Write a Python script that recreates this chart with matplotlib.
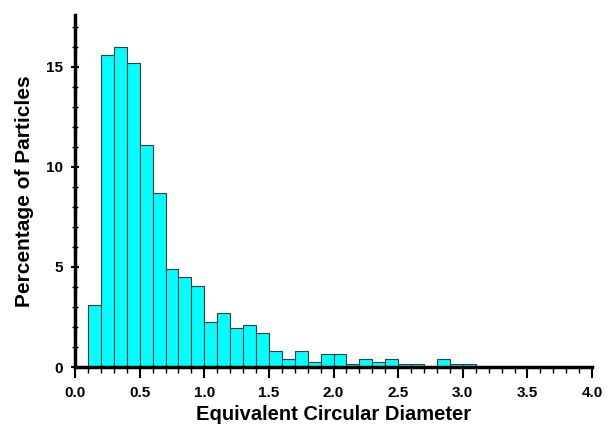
import matplotlib
matplotlib.use("Agg")
import matplotlib.pyplot as plt
import numpy as np
from matplotlib.ticker import MultipleLocator

bin_left = [0.1, 0.2, 0.3, 0.4, 0.5, 0.6, 0.7, 0.8, 0.9, 1.0,
            1.1, 1.2, 1.3, 1.4, 1.5, 1.6, 1.7, 1.8, 1.9, 2.0,
            2.1, 2.2, 2.3, 2.4, 2.5, 2.6, 2.7, 2.8, 2.9, 3.0]
percent = [3.10, 15.56, 16.0, 15.18, 11.1, 8.71, 4.90, 4.47, 4.04, 2.26,
           2.69, 1.93, 2.10, 1.68, 0.79, 0.38, 0.79, 0.26, 0.66, 0.66,
           0.15, 0.40, 0.26, 0.40, 0.15, 0.15, 0.0, 0.40, 0.15, 0.15]
bin_width = 0.1
x_ticks = [0.0, 0.5, 1.0, 1.5, 2.0, 2.5, 3.0, 3.5, 4.0]
y_ticks = [0, 5, 10, 15]

plt.rcParams['font.family'] = ['Liberation Sans', 'DejaVu Sans']
fig = plt.figure(figsize=(6.11, 4.28), dpi=100)
ax = fig.add_axes([0.1228, 0.1425, 0.969 - 0.1228, 0.966 - 0.1425])

ax.bar(bin_left, percent, width=bin_width, align='edge',
       color='#00FFFF', edgecolor='#3a3a3a', linewidth=0.8, zorder=2)

ax.set_xlim(0, 4.0)
ax.set_ylim(0, 17.6)
ax.set_xticks(x_ticks)
ax.set_xticklabels([f"{v:.1f}" for v in x_ticks], fontweight='bold', fontsize=11)
ax.set_yticks(y_ticks)
ax.set_yticklabels([str(v) for v in y_ticks], fontweight='bold', fontsize=11)
ax.xaxis.set_minor_locator(MultipleLocator(0.1))
ax.yaxis.set_minor_locator(MultipleLocator(1))

for s in ['top', 'right']:
    ax.spines[s].set_visible(False)
for s in ['left', 'bottom']:
    ax.spines[s].set_linewidth(2.5)
    ax.spines[s].set_zorder(3)

ax.tick_params(axis='x', which='major', direction='out', length=8, width=1.5, pad=6)
ax.tick_params(axis='x', which='minor', direction='out', length=4, width=1.0)
ax.tick_params(axis='y', which='major', direction='inout', length=6, width=1.5, pad=6)
ax.tick_params(axis='y', which='minor', direction='inout', length=4, width=1.0)

ax.set_xlabel('Equivalent Circular Diameter', fontweight='bold', fontsize=14.5, labelpad=3)
ax.set_ylabel('Percentage of Particles', fontweight='bold', fontsize=15, labelpad=8)

fig.savefig('out.png', dpi=100)
